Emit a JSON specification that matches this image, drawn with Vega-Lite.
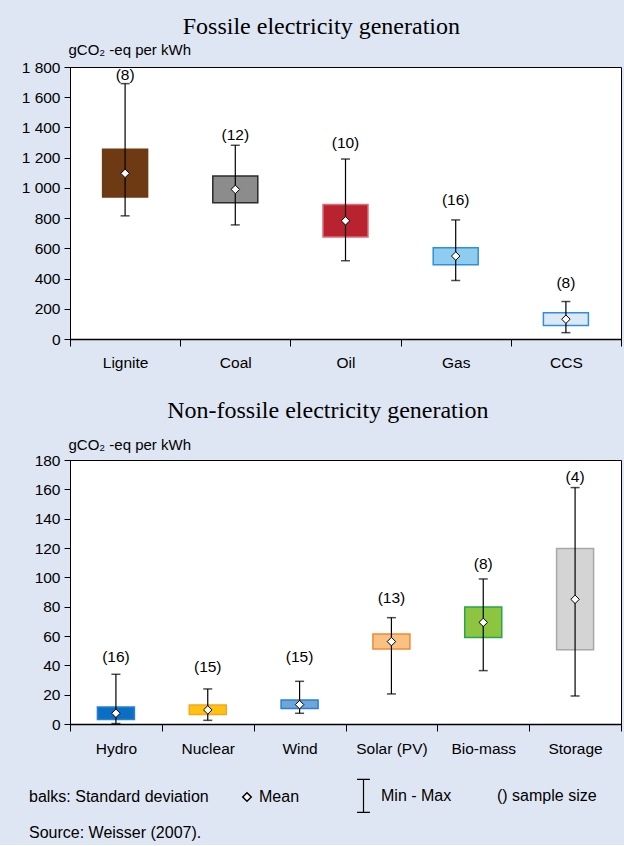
{
  "$schema": "https://vega.github.io/schema/vega-lite/v6.json",
  "background": "#dfe6f3",
  "padding": {"left": 9, "top": 14, "right": 3, "bottom": 4},
  "config": {
    "view": {"fill": "white", "stroke": "black", "strokeWidth": 1},
    "font": "Liberation Sans",
    "axis": {"labelFont": "Liberation Sans", "labelFontSize": 15.5, "labelColor": "black", "domainColor": "black", "tickColor": "black", "grid": false, "titleFont": "Liberation Sans", "titleFontWeight": "normal", "titleColor": "black", "titleFontSize": 15, "labelOverlap": false},
    "title": {"font": "Liberation Serif", "fontSize": 24, "fontWeight": "normal", "color": "black", "anchor": "middle", "frame": "bounds"},
    "legend": {"labelFont": "Liberation Sans", "labelFontSize": 16, "labelColor": "black", "labelLimit": 400, "title": null}
  },
  "bounds": "flush",
  "spacing": 121,
  "resolve": {"scale": {"fill": "independent", "stroke": "independent"}},
  "title": {"text": "Source: Weisser (2007).", "orient": "bottom", "anchor": "start", "frame": "bounds", "font": "Liberation Sans", "fontSize": 16, "offset": 10, "dx": 20},
  "vconcat": [
    {
      "width": 551,
      "height": 272,
      "title": {"text": "Fossile electricity generation", "offset": 3},
      "data": {"values": [
        {"source": "Lignite", "sdLow": 939, "sdHigh": 1255, "mean": 1096, "min": 815, "max": 1690, "labelY": 1747, "n": "(8)"},
        {"source": "Coal", "sdLow": 901, "sdHigh": 1078, "mean": 990, "min": 755, "max": 1282, "labelY": 1350, "n": "(12)"},
        {"source": "Oil", "sdLow": 675, "sdHigh": 890, "mean": 782, "min": 518, "max": 1191, "labelY": 1295, "n": "(10)"},
        {"source": "Gas", "sdLow": 491, "sdHigh": 604, "mean": 549, "min": 387, "max": 788, "labelY": 918, "n": "(16)"},
        {"source": "CCS", "sdLow": 89, "sdHigh": 173, "mean": 131, "min": 42, "max": 248, "labelY": 372, "n": "(8)"}
      ]},
      "encoding": {
        "x": {"field": "source", "type": "nominal", "sort": null, "scale": {"paddingInner": 0, "paddingOuter": 0},
              "axis": {"title": null, "labelAngle": 0, "tickBand": "extent", "tickSize": 7, "labelPadding": 9, "domainWidth": 1.5}}
      },
      "layer": [
        {"mark": {"type": "bar", "size": 45, "strokeWidth": 1.5},
         "encoding": {
           "y": {"field": "sdLow", "type": "quantitative", "scale": {"domain": [0, 1800]},
                 "axis": {"title": "gCO₂ -eq per kWh", "values": [0, 200, 400, 600, 800, 1000, 1200, 1400, 1600, 1800], "tickCount": 10, "labelOverlap": false, "labelFlush": false, "labelExpr": "replace(format(datum.value, ','), ',', ' ')", "tickSize": 6, "labelPadding": 4, "titleAngle": 0, "titleAlign": "left", "titleBaseline": "bottom", "titleX": -2, "titleY": -10}},
           "y2": {"field": "sdHigh"},
           "fill": {"field": "source", "type": "nominal", "legend": null, "scale": {"domain": ["Lignite", "Coal", "Oil", "Gas", "CCS"], "range": ["#6e3a13", "#8c8c8c", "#b8232f", "#8ecdf0", "#dde8f6"]}},
           "stroke": {"field": "source", "type": "nominal", "legend": null, "scale": {"domain": ["Lignite", "Coal", "Oil", "Gas", "CCS"], "range": ["#6e3a13", "#2b2b2b", "#e06b75", "#2f8fd8", "#2f8fd8"]}}
         }},
        {"mark": {"type": "rule", "color": "black", "strokeWidth": 1.2},
         "encoding": {"y": {"field": "min", "type": "quantitative"}, "y2": {"field": "max"}}},
        {"mark": {"type": "tick", "color": "black", "size": 9, "thickness": 1.5},
         "encoding": {"y": {"field": "max", "type": "quantitative"}}},
        {"mark": {"type": "tick", "color": "black", "size": 9, "thickness": 1.5},
         "encoding": {"y": {"field": "min", "type": "quantitative"}}},
        {"mark": {"type": "point", "shape": "M0,-1L1,0L0,1L-1,0Z", "filled": true, "fill": "white", "stroke": "black", "strokeWidth": 1, "size": 72, "opacity": 1},
         "encoding": {"y": {"field": "mean", "type": "quantitative"}}},
        {"mark": {"type": "text", "fontSize": 15.5, "font": "Liberation Sans", "color": "black"},
         "encoding": {"y": {"field": "labelY", "type": "quantitative"}, "text": {"field": "n"}}}
      ]
    },
    {
      "width": 551,
      "height": 264,
      "title": {"text": "Non-fossile electricity generation", "offset": 14},
      "data": {"values": [
        {"source": "Hydro", "sdLow": 3, "sdHigh": 11.6, "mean": 7.3, "min": 0.3, "max": 33.9, "labelY": 46, "n": "(16)"},
        {"source": "Nuclear", "sdLow": 6.4, "sdHigh": 13, "mean": 9.6, "min": 2.5, "max": 23.9, "labelY": 39, "n": "(15)"},
        {"source": "Wind", "sdLow": 10.5, "sdHigh": 16.4, "mean": 13.2, "min": 7.3, "max": 29.1, "labelY": 45.5, "n": "(15)"},
        {"source": "Solar (PV)", "sdLow": 51.1, "sdHigh": 61.4, "mean": 56.2, "min": 20.5, "max": 72.5, "labelY": 86.2, "n": "(13)"},
        {"source": "Bio-mass", "sdLow": 58.9, "sdHigh": 79.8, "mean": 69.3, "min": 36.4, "max": 98.9, "labelY": 109, "n": "(8)"},
        {"source": "Storage", "sdLow": 50.7, "sdHigh": 119.6, "mean": 85, "min": 19.1, "max": 161.2, "labelY": 168.7, "n": "(4)"}
      ]},
      "encoding": {
        "x": {"field": "source", "type": "nominal", "sort": null, "scale": {"paddingInner": 0, "paddingOuter": 0},
              "axis": {"title": null, "labelAngle": 0, "tickBand": "extent", "tickSize": 7, "labelPadding": 10, "domainWidth": 1.5}}
      },
      "layer": [
        {"mark": {"type": "bar", "size": 37, "strokeWidth": 1.5},
         "encoding": {
           "y": {"field": "sdLow", "type": "quantitative", "scale": {"domain": [0, 180]},
                 "axis": {"title": "gCO₂ -eq per kWh", "values": [0, 20, 40, 60, 80, 100, 120, 140, 160, 180], "tickCount": 10, "labelOverlap": false, "labelFlush": false, "tickSize": 6, "labelPadding": 4, "titleAngle": 0, "titleAlign": "left", "titleBaseline": "bottom", "titleX": -2, "titleY": -8}},
           "y2": {"field": "sdHigh"},
           "fill": {"field": "source", "type": "nominal", "legend": null, "scale": {"domain": ["Hydro", "Nuclear", "Wind", "Solar (PV)", "Bio-mass", "Storage"], "range": ["#0a6fc2", "#ffc20e", "#6ea6d9", "#f9c184", "#8dc540", "#d4d4d4"]}},
           "stroke": {"field": "source", "type": "nominal", "legend": null, "scale": {"domain": ["Hydro", "Nuclear", "Wind", "Solar (PV)", "Bio-mass", "Storage"], "range": ["#2a7fd0", "#f5a623", "#2b7fcf", "#f08a32", "#26a64b", "#a8a8a8"]}}
         }},
        {"mark": {"type": "rule", "strokeWidth": 1.2},
         "encoding": {
           "y": {"field": "min", "type": "quantitative"}, "y2": {"field": "max"},
           "color": {"datum": "Min - Max", "type": "nominal",
                     "scale": {"domain": ["Min - Max", "() sample size"], "range": ["black", "transparent"]},
                     "legend": {"orient": "none", "legendX": 276, "legendY": 711, "direction": "horizontal", "columns": 2, "columnPadding": 10, "labelOffset": 0, "symbolSize": 1089, "symbolStrokeWidth": 1.2,
                                "symbolType": "M0,-1L0,1M-0.39,-1L0.39,-1M-0.39,1L0.39,1"}}
         }},
        {"mark": {"type": "tick", "color": "black", "size": 9, "thickness": 1.5},
         "encoding": {"y": {"field": "max", "type": "quantitative"}}},
        {"mark": {"type": "tick", "color": "black", "size": 9, "thickness": 1.5},
         "encoding": {"y": {"field": "min", "type": "quantitative"}}},
        {"mark": {"type": "point", "filled": true, "fill": "white", "stroke": "black", "strokeWidth": 1, "size": 72, "opacity": 1},
         "encoding": {
           "y": {"field": "mean", "type": "quantitative"},
           "shape": {"datum": "Mean", "type": "nominal",
                     "scale": {"domain": ["balks: Standard deviation", "Mean"], "range": ["M0,0", "M0,-1L1,0L0,1L-1,0Z"]},
                     "legend": {"orient": "none", "legendX": -61, "legendY": 722, "direction": "horizontal", "columns": 2, "columnPadding": 30, "labelOffset": 4, "symbolSize": 72,
                                "encode": {"symbols": {"update": {"fill": {"value": "white"}, "stroke": {"value": "black"}, "strokeWidth": {"value": 1}, "opacity": {"value": 1}}}}}}
         }},
        {"mark": {"type": "text", "fontSize": 15.5, "font": "Liberation Sans", "color": "black"},
         "encoding": {"y": {"field": "labelY", "type": "quantitative"}, "text": {"field": "n"}}}
      ]
    }
  ]
}
